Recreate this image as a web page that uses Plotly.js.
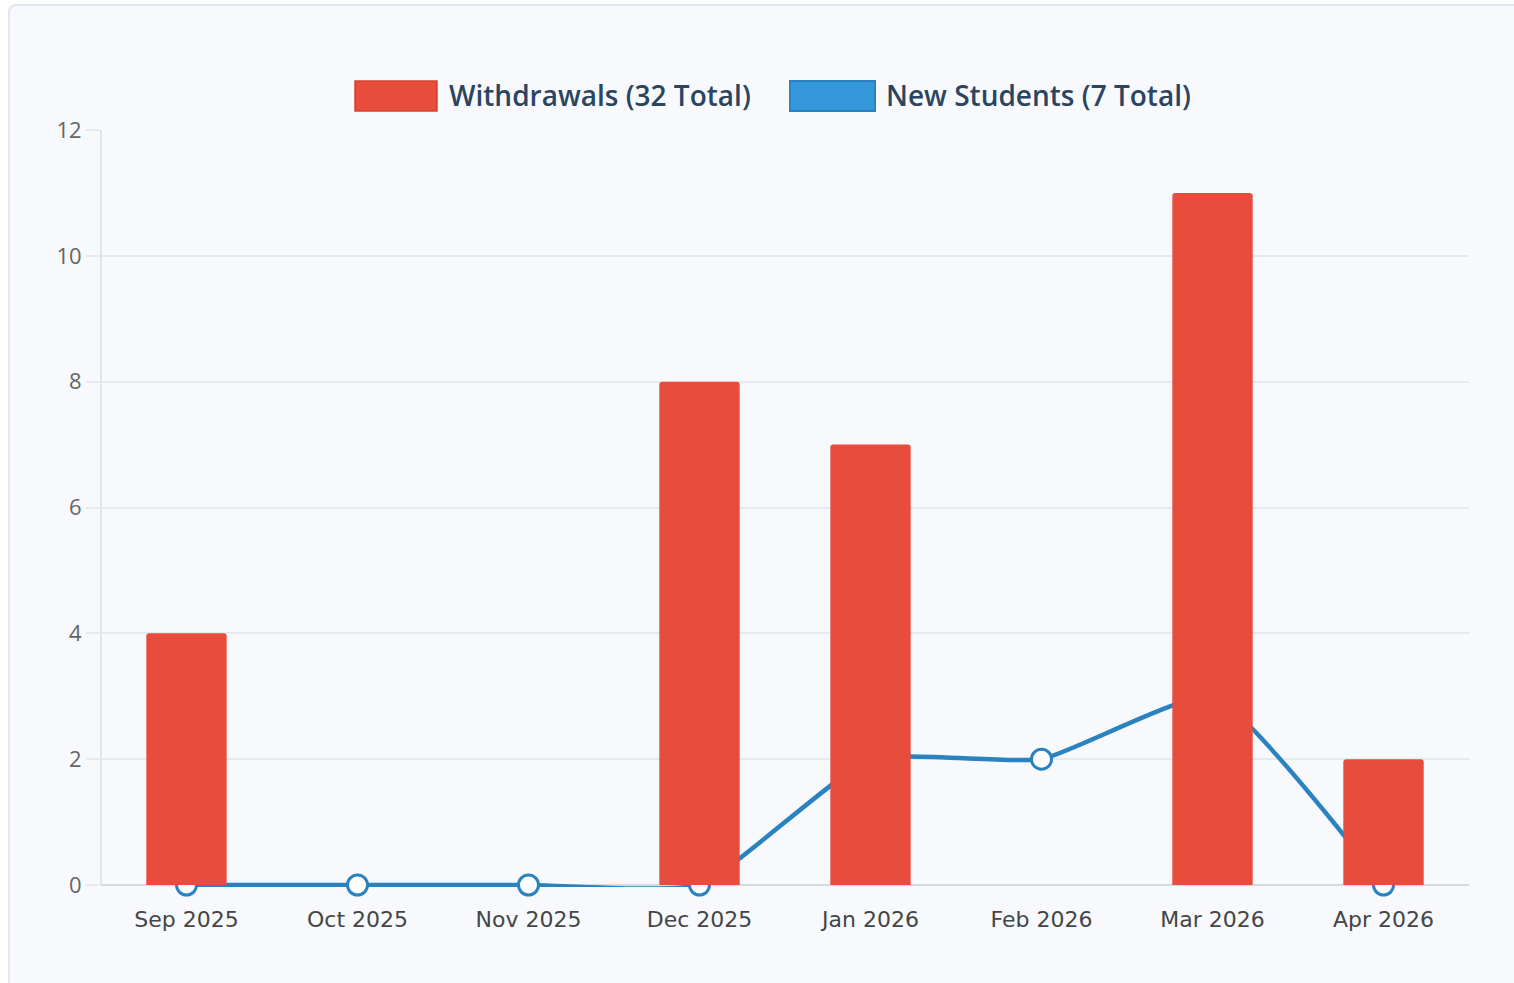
<!DOCTYPE html>
<html>
<head>
<meta charset="utf-8">
<script src="https://cdn.plot.ly/plotly-3.0.1.min.js"></script>
<style>
  html, body { margin: 0; padding: 0; background: #ffffff; width: 1514px; height: 983px; overflow: hidden; }
  #card { position: absolute; left: 8px; top: 4px; width: 1530px; height: 1010px; box-sizing: border-box;
          border: 2px solid #e0e7ef; border-radius: 8px; background: #f7f9fd; }
  #chart { position: absolute; left: 0; top: 0; width: 1514px; height: 983px; }
</style>
</head>
<body>
<div id="card"></div>
<div id="chart"></div>
<script>
const months = ["Sep 2025", "Oct 2025", "Nov 2025", "Dec 2025", "Jan 2026", "Feb 2026", "Mar 2026", "Apr 2026"];
const withdrawals = [4, 0, 0, 8, 7, 0, 11, 2];
const newStudents = [0, 0, 0, 0, 2, 2, 3, 0];
const yTicks = [0, 2, 4, 6, 8, 10, 12];

const sum = a => a.reduce((s, v) => s + v, 0);
const wName = "Withdrawals (" + sum(withdrawals) + " Total)";
const nName = "New Students (" + sum(newStudents) + " Total)";

const W = 1514, H = 983;
const AXIS_Y = 885, TOP_Y = 130, YMAX = 12;
const M = { l: 101, r: 45, t: TOP_Y, b: 96 };
const pw = W - M.l - M.r, ph = H - M.t - M.b;
const yLow = -(H - M.b - AXIS_Y) * YMAX / (AXIS_Y - TOP_Y);
const px = x => (x - M.l) / pw;
const py = y => (H - M.b - y) / ph;

const lineTrace = {
  type: "scatter", mode: "lines+markers", x: months, y: newStudents, name: nName,
  xaxis: "x", yaxis: "y", cliponaxis: false,
  line: { color: "#2a82c0", width: 4.5, shape: "spline", smoothing: 0.45 },
  marker: { color: "#ffffff", size: 20, line: { color: "#2a82c0", width: 3 } },
  showlegend: false, hoverinfo: "x+y"
};
const barTrace = {
  type: "bar", x: months, y: withdrawals, name: wName,
  xaxis: "x", yaxis: "y2", width: 0.47,
  marker: { color: "#e74c3c", cornerradius: 3, line: { width: 0 } },
  showlegend: false, hoverinfo: "x+y"
};

const layout = {
  width: W, height: H,
  margin: M,
  paper_bgcolor: "rgba(0,0,0,0)", plot_bgcolor: "rgba(0,0,0,0)",
  showlegend: false,
  xaxis: {
    type: "category", range: [-0.5, months.length - 0.5], fixedrange: true,
    showgrid: false, showline: false,
    ticks: "outside", ticklen: 13, tickcolor: "rgba(0,0,0,0)",
    tickfont: { family: "DejaVu Sans, sans-serif", size: 22, color: "#454545" },
    zeroline: false
  },
  yaxis: {
    range: [yLow, YMAX], tickvals: yTicks, ticktext: yTicks.map(String), fixedrange: true,
    showgrid: true, gridcolor: "#e5eaf1", gridwidth: 2,
    showline: false,
    zeroline: true, zerolinecolor: "#d3d9e1", zerolinewidth: 2,
    ticks: "outside", ticklen: 14, tickcolor: "#e5eaf1", tickwidth: 2,
    tickfont: { family: "Open Sans, Noto Sans, sans-serif", size: 22, color: "#666666" }
  },
  yaxis2: {
    overlaying: "y", range: [yLow, YMAX], visible: false, fixedrange: true, showgrid: false, zeroline: false
  },
  shapes: [
    { type: "line", xref: "paper", yref: "y", x0: 0, x1: 0, y0: 0, y1: YMAX, layer: "below",
      line: { color: "#e0e5ec", width: 2 } },
    { type: "rect", xref: "paper", yref: "paper", x0: px(355), x1: px(437), y0: py(111), y1: py(81),
      fillcolor: "#e74c3c", line: { color: "#d5402f", width: 1.5 } },
    { type: "rect", xref: "paper", yref: "paper", x0: px(790), x1: px(875), y0: py(111), y1: py(81),
      fillcolor: "#3498db", line: { color: "#2a82c0", width: 2 } }
  ],
  annotations: [
    { xref: "paper", yref: "paper", x: px(447), y: py(95), xanchor: "left", yanchor: "middle", showarrow: false,
      text: wName, font: { family: "Open Sans, sans-serif", size: 28, color: "#2b4560", weight: 600 } },
    { xref: "paper", yref: "paper", x: px(884), y: py(95), xanchor: "left", yanchor: "middle", showarrow: false,
      text: nName, font: { family: "Open Sans, sans-serif", size: 28, color: "#2b4560", weight: 600 } }
  ]
};

Plotly.newPlot("chart", [lineTrace, barTrace], layout, { displayModeBar: false, staticPlot: true });
</script>
</body>
</html>
